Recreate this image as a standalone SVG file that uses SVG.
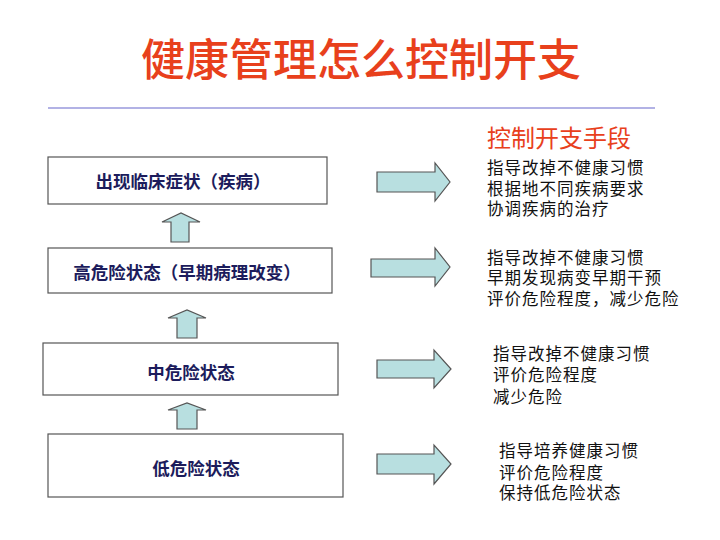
<svg xmlns="http://www.w3.org/2000/svg" width="720" height="540" viewBox="0 0 720 540">
<style>
text{font-family:"Noto Sans CJK SC","Noto Sans",sans-serif;dominant-baseline:central}
.title{font-size:44px;fill:#E8401C;font-weight:500;text-anchor:middle}
.head{font-size:24px;fill:#E8401C;}
.box{fill:#fff;stroke:#555;stroke-width:1.2}
.lbl{font-size:17.5px;fill:#1C1C5C;font-weight:bold;text-anchor:middle}
.arr{fill:#B8DFE0;stroke:#555;stroke-width:1.2}
.desc{font-size:16.5px;letter-spacing:1px;fill:#111}
</style>
<rect width="720" height="540" fill="#fff"/>
<text class="title" x="361" y="57">健康管理怎么控制开支</text>
<line x1="48" y1="108" x2="655" y2="108" stroke="#6666CC" stroke-width="1.2"/>

<g id="node1"><rect class="box" x="48" y="157" width="279" height="47"/><text class="lbl" x="183" y="180">出现临床症状（疾病）</text></g>
<g id="node2"><rect class="box" x="48" y="248" width="284" height="45"/><text class="lbl" x="187" y="271">高危险状态（早期病理改变）</text></g>
<g id="node3"><rect class="box" x="43" y="343" width="295" height="52"/><text class="lbl" x="191" y="371">中危险状态</text></g>
<g id="node4"><rect class="box" x="48" y="434" width="295" height="63"/><text class="lbl" x="196" y="467">低危险状态</text></g>

<g id="connectors">
<polygon class="arr" points="171,242 171,222 162,222 181,213 200,222 189,222 189,242"/>
<polygon class="arr" points="177,338 177,318 168,318 187,310 206,318 197,318 197,338"/>
<polygon class="arr" points="177,429 177,410 168,410 187,403 206,410 197,410 197,429"/>
<polygon class="arr" points="377,172 435,172 435,163 450,182 435,201 435,192 377,192"/>
<polygon class="arr" points="371,259 435,259 435,248 450,267 435,286 435,277 371,277"/>
<polygon class="arr" points="377,360 434,360 434,350 451,369 434,388 434,378 377,378"/>
<polygon class="arr" points="377,454 434,454 434,445 451,464 434,484 434,474 377,474"/>
</g>

<g id="means">
<text class="head" x="487" y="136">控制开支手段</text>
<text class="desc"><tspan x="487" y="167">指导改掉不健康习惯</tspan><tspan x="487" y="188">根据地不同疾病要求</tspan><tspan x="487" y="208">协调疾病的治疗</tspan></text>
<text class="desc"><tspan x="487" y="257">指导改掉不健康习惯</tspan><tspan x="487" y="277">早期发现病变早期干预</tspan><tspan x="487" y="298">评价危险程度，减少危险</tspan></text>
<text class="desc"><tspan x="493" y="353">指导改掉不健康习惯</tspan><tspan x="493" y="374">评价危险程度</tspan><tspan x="493" y="396">减少危险</tspan></text>
<text class="desc"><tspan x="499" y="450">指导培养健康习惯</tspan><tspan x="499" y="472">评价危险程度</tspan><tspan x="499" y="492">保持低危险状态</tspan></text>
</g>
</svg>
